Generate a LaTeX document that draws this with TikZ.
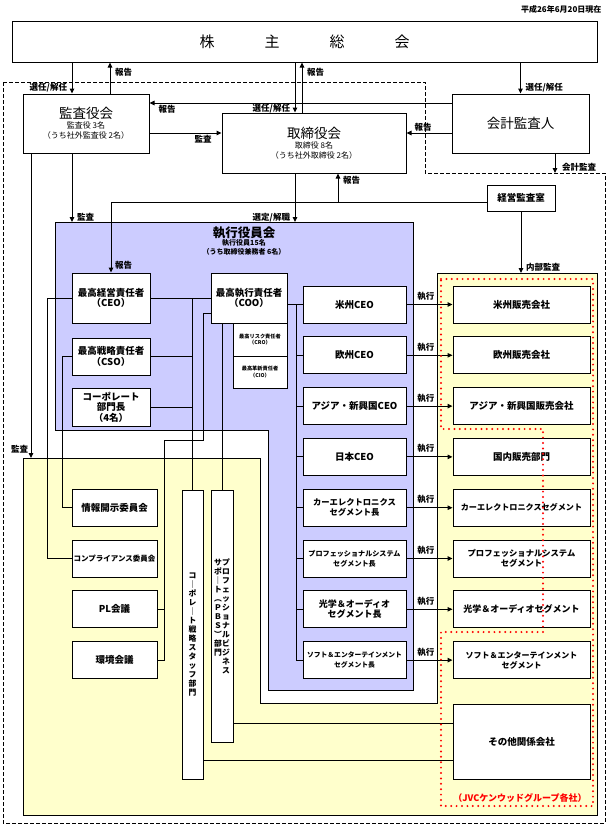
\documentclass[tikz,border=0pt]{standalone}
\usepackage{fontspec}
\setmainfont{Noto Sans CJK JP}
\usetikzlibrary{arrows.meta}
\definecolor{exec-blue}{HTML}{CCCCFF}
\definecolor{group-yellow}{HTML}{FFFFCC}
\definecolor{group-red}{HTML}{FF0000}
\newcommand{\tatestack}[1]{\parbox[t]{9pt}{\centering\bfseries\fontsize{7.8}{9}\selectfont #1}}

\begin{document}
\begin{tikzpicture}[x=1pt,y=-1pt,>={Triangle[length=5pt,width=4.5pt]}]
\tikzstyle{org-box}=[draw, fill=white, line width=1pt, inner sep=0pt, align=center, font=\bfseries\fontsize{9.5}{10.5}\selectfont]
\tikzstyle{head-box}=[org-box, font=\fontsize{8}{10}\selectfont]
\tikzstyle{exec-box}=[org-box, minimum width=78pt]
\tikzstyle{ceo-box}=[org-box, minimum width=103pt, minimum height=37pt]
\tikzstyle{company-box}=[org-box, minimum width=137pt, minimum height=37pt]
\tikzstyle{council-box}=[org-box, minimum width=85pt, minimum height=37pt]
\tikzstyle{tate-box}=[org-box, inner sep=0pt]
\tikzstyle{org-line}=[line width=1pt]
\tikzstyle{org-arrow}=[->,line width=1pt]
\tikzstyle{link-label}=[font=\bfseries\fontsize{8.5}{10}\selectfont, inner sep=0.5pt]
\useasboundingbox (0,0) rectangle (609,827);

% areas
\draw[line width=0.8pt, dash pattern=on 4pt off 2pt] (3,82) -- (425,82) -- (425,173) -- (605,173) -- (605,823) -- (3,823) -- cycle;
\draw[line width=1pt, fill=group-yellow] (23,458) -- (437,458) -- (437,273) -- (597,273) -- (597,815) -- (23,815) -- cycle;
\fill[white] (260,458) rectangle (437,703);
\draw[line width=1pt] (260,458) |- (437,703) -- (437,458);
\draw[line width=1pt, fill=exec-blue] (55,222) -- (413,222) -- (413,690) -- (268,690) -- (268,430) -- (55,430) -- cycle;

% top
\node[font=\bfseries\fontsize{8}{10}\selectfont, anchor=east] (as-of) at (605,9) {平成26年6月20日現在};
\node[org-box, minimum width=585pt, minimum height=41pt, font=\fontsize{15}{18}\selectfont] (kabunushi) at (304.5,41.5) {株\hspace{50pt}主\hspace{50pt}総\hspace{50pt}会};
\node[head-box, minimum width=126pt, minimum height=59pt] (kansayaku) at (86,123.5) {{\fontsize{13.5}{10}\selectfont 監査役会}\\監査役 3名\\（うち社外監査役 2名）};
\node[head-box, minimum width=184pt, minimum height=60pt] (torishimari) at (314,143) {{\fontsize{13.5}{10}\selectfont 取締役会}\\取締役 8名\\（うち社外取締役 2名）};
\node[head-box, minimum width=137pt, minimum height=59pt, font=\fontsize{13.5}{16}\selectfont] (kaikei) at (520.5,123.5) {会計監査人};
\node[org-box, minimum width=68pt, minimum height=26pt] (keiei-kansa) at (521,198) {経営監査室};

% executive board
\node[font=\bfseries\fontsize{7}{8.5}\selectfont, align=center] (shikko) at (244,241) {{\fontsize{12.5}{8.5}\selectfont 執行役員会}\\執行役員15名\\（うち取締役兼務者 6名）};
\node[exec-box, minimum height=50pt] (ceo) at (111,298) {最高経営責任者\\（CEO）};
\node[exec-box, minimum height=37pt] (cso) at (111,356.5) {最高戦略責任者\\（CSO）};
\node[exec-box, minimum height=38pt] (corp-head) at (111,407) {コーポレート\\部門長\\（4名）};
\node[org-box, minimum width=76pt, minimum height=50pt] (coo) at (249,298) {最高執行責任者\\（COO）};
\node[org-box, minimum width=54pt, minimum height=33pt, font=\bfseries\fontsize{5.2}{6.5}\selectfont] (cro) at (260,339.5) {最高リスク責任者\\（CRO）};
\node[org-box, minimum width=54pt, minimum height=32pt, font=\bfseries\fontsize{5.2}{6.5}\selectfont] (cio) at (260,372) {最高革新責任者\\（CIO）};

\node[ceo-box] (r1) at (354.5,304.5) {米州CEO};
\node[ceo-box] (r2) at (354.5,355.3) {欧州CEO};
\node[ceo-box] (r3) at (354.5,406.1) {アジア・新興国CEO};
\node[ceo-box] (r4) at (354.5,456.9) {日本CEO};
\node[ceo-box, font=\bfseries\fontsize{8.3}{10}\selectfont] (r5) at (354.5,507.7) {カーエレクトロニクス\\セグメント長};
\node[ceo-box, font=\bfseries\fontsize{7.1}{10}\selectfont] (r6) at (354.5,558.5) {プロフェッショナルシステム\\セグメント長};
\node[ceo-box, font=\bfseries\fontsize{9}{10}\selectfont] (r7) at (354.5,609.3) {光学＆オーディオ\\セグメント長};
\node[ceo-box, font=\bfseries\fontsize{6.8}{10}\selectfont] (r8) at (354.5,660.1) {ソフト＆エンターテインメント\\セグメント長};

% group companies
\node[company-box] (s1) at (521.5,304.5) {米州販売会社};
\node[company-box] (s2) at (521.5,355.3) {欧州販売会社};
\node[company-box] (s3) at (521.5,406.1) {アジア・新興国販売会社};
\node[company-box] (s4) at (521.5,456.9) {国内販売部門};
\node[company-box, font=\bfseries\fontsize{8.1}{10}\selectfont] (s5) at (521.5,507.7) {カーエレクトロニクスセグメント};
\node[company-box, font=\bfseries\fontsize{8.3}{10}\selectfont] (s6) at (521.5,558.5) {プロフェッショナルシステム\\セグメント};
\node[company-box, font=\bfseries\fontsize{9}{10}\selectfont] (s7) at (521.5,609.3) {光学＆オーディオセグメント};
\node[company-box, font=\bfseries\fontsize{8}{10}\selectfont] (s8) at (521.5,660.1) {ソフト＆エンターテインメント\\セグメント};
\node[company-box, minimum height=75pt] (sonota) at (521.5,741.5) {その他関係会社};
\node[font=\bfseries\fontsize{9}{10}\selectfont, text=group-red] (jvc-group) at (520,798) {（JVCケンウッドグループ各社）};

% councils and staff
\node[council-box] (disclosure) at (114.5,507.7) {情報開示委員会};
\node[council-box, font=\bfseries\fontsize{7.5}{10}\selectfont] (compliance) at (114.5,558.5) {コンプライアンス委員会};
\node[council-box] (pl-council) at (114.5,609.3) {PL会議};
\node[council-box] (kankyo) at (114.5,660.1) {環境会議};
\node[tate-box, minimum width=21pt, minimum height=289pt] (staff) at (192.5,634.5) {\tatestack{コ\\｜\\ポ\\レ\\｜\\ト\\戦\\略\\ス\\タ\\ッ\\フ\\部\\門}};
\node[tate-box, minimum width=22pt, minimum height=252pt] (pbs) at (222,616) {\tatestack{サ\\ポ\\｜\\ト\\︵\\Ｐ\\Ｂ\\Ｓ\\︶\\部\\門}\hspace{-1pt}\tatestack{プ\\ロ\\フ\\ェ\\ッ\\シ\\ョ\\ナ\\ル\\ビ\\ジ\\ネ\\ス}};

% shareholders
\draw[style=org-arrow] ([xshift=-14pt]kansayaku.north |- kabunushi.south) -- node[style=link-label, pos=0.8, left=4pt] {選任/解任} ([xshift=-14pt]kansayaku.north);
\draw[style=org-arrow] ([xshift=24pt]kansayaku.north) -- node[style=link-label, pos=0.7, right=4pt] {報告} ([xshift=24pt]kansayaku.north |- kabunushi.south);
\draw[style=org-arrow] ([xshift=-19pt]torishimari.north |- kabunushi.south) -- node[style=link-label, pos=0.92, left=4pt] {選任/解任} ([xshift=-19pt]torishimari.north);
\draw[style=org-arrow] ([xshift=-12pt]torishimari.north) -- node[style=link-label, pos=0.8, right=4pt] {報告} ([xshift=-12pt]torishimari.north |- kabunushi.south);
\draw[style=org-arrow] (kaikei.north |- kabunushi.south) -- node[style=link-label, pos=0.8, right=4pt] {選任/解任} (kaikei.north);

% audit
\draw[style=org-arrow] ([yshift=20.5pt]kaikei.west) -- node[style=link-label, pos=1, anchor=north west, xshift=8pt, yshift=-1pt] {報告} ([yshift=20.5pt]kaikei.west -| kansayaku.east);
\draw[style=org-arrow] ([yshift=-9.5pt]kaikei.west) -- node[style=link-label, pos=1, anchor=south west, xshift=7pt, yshift=1pt] {報告} ([yshift=-9.5pt]kaikei.west -| torishimari.east);
\draw[style=org-arrow] ([yshift=-9.5pt]kansayaku.east) -- node[style=link-label, pos=1, anchor=north east, xshift=-9pt, yshift=-1pt] {監査} ([yshift=-9.5pt]kansayaku.east -| torishimari.west);
\coordinate (kaikei-audit) at (555,173);
\draw[style=org-arrow] ([xshift=34.5pt]kaikei.south) -- node[style=link-label, pos=0.7, right=6pt] {会計監査} (kaikei-audit);
\draw[style=org-arrow] ([yshift=-4pt]keiei-kansa.west) -| node[style=link-label, pos=0.95, right=3pt] {報告} (ceo.north);
\coordinate (report-fork) at (338,202);
\draw[style=org-arrow] (report-fork) -- node[style=link-label, pos=0.76, right=4pt] {報告} (report-fork |- torishimari.south);
\coordinate (group-top) at (521,273);
\draw[style=org-arrow] (keiei-kansa.south) -- node[style=link-label, pos=0.9, right=4pt] {内部監査} (group-top);
\coordinate (shikko-top) at (55,222);
\draw[style=org-arrow] ([xshift=-14pt]kansayaku.south) -- node[style=link-label, pos=0.93, right=4pt] {監査} ([xshift=-14pt]kansayaku.south |- shikko-top);
\draw[style=org-arrow] ([xshift=-19pt]torishimari.south) -- node[style=link-label, pos=0.9, left=4pt] {選定/解職} ([xshift=-19pt]torishimari.south |- shikko-top);
\coordinate (group-left-top) at (23,458);
\draw[style=org-arrow] ([xshift=-55pt]kansayaku.south) -- node[style=link-label, pos=0.97, left=2pt] {監査} ([xshift=-55pt]kansayaku.south |- group-left-top);

% inside the executive board
\draw[style=org-line] (ceo.east) -- (coo.west);
\draw[style=org-line] (ceo.east -| staff.north) -- (staff.north);
\draw[style=org-line] (cso.east) -- (cso.east -| staff.north);
\draw[style=org-line] (corp-head.east) -- (corp-head.east -| staff.north);
\draw[style=org-line] (ceo.west) -- ++(-24,0) |- (compliance.west);
\draw[style=org-line] (cso.west) -- ++(-9,0) |- (disclosure.west);
\coordinate (coo-bend) at (203,440);
\coordinate (council-bend) at (164,440);
\draw[style=org-line] ([yshift=-15pt]coo.west) -| (coo-bend) -- (council-bend) |- (kankyo.east);
\draw[style=org-line] (pl-council.east) -- (pl-council.east -| council-bend);
\draw[style=org-line] ([xshift=-27pt]coo.south) -- (pbs.north);
\coordinate (region-trunk) at (296,0);
\draw[style=org-line] (coo.east |- r1.west) -- (r1.west);
\draw[style=org-line] (r1.west -| region-trunk) -- (r8.west -| region-trunk);
\foreach \i in {2,...,8}
  \draw[style=org-line] (r\i.west -| region-trunk) -- (r\i.west);
\foreach \i in {1,...,8}
  \draw[style=org-arrow] (r\i.east) -- node[style=link-label, pos=0.42, above=3pt] {執行} (s\i.west);
\draw[style=org-line] ([yshift=18.5pt]sonota.west) -- ([yshift=18.5pt]sonota.west -| pbs.east);
\draw[style=org-line] ([yshift=-18.5pt]sonota.west) -- ([yshift=-18.5pt]sonota.west -| staff.east);

% group border
\draw[group-red, line width=2.2pt, dash pattern=on 0pt off 5.4pt, line cap=round] (441,279) -- (593,279) -- (593,806) -- (441,806) -- (441,632) -- (543,632) -- (543,429) -- (441,429) -- cycle;
\end{tikzpicture}
\end{document}
